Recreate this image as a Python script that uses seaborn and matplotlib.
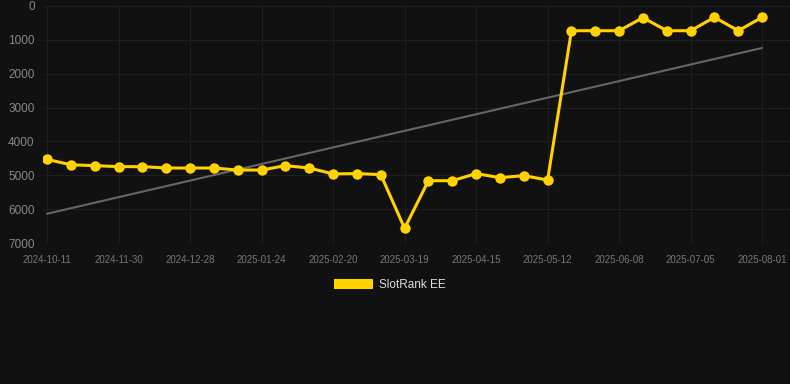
import numpy as np
import pandas as pd
import matplotlib
matplotlib.use("Agg")
import matplotlib.pyplot as plt
import seaborn as sns
from matplotlib.patches import Patch

tick_labels = ["2024-10-11", "2024-11-30", "2024-12-28", "2025-01-24", "2025-02-20",
               "2025-03-19", "2025-04-15", "2025-05-12", "2025-06-08", "2025-07-05",
               "2025-08-01"]
ranks = [4530, 4690, 4715, 4745, 4745, 4785, 4785, 4785, 4845, 4845, 4715,
         4785, 4960, 4950, 4980, 6565, 5160, 5160, 4950, 5070, 5010, 5140,
         730, 730, 730, 345, 730, 730, 335, 730, 335]
series_name = "SlotRank EE"

sns.set_theme(style="dark")
plt.rcParams['font.family'] = ['Liberation Sans', 'DejaVu Sans']
bg = "#111111"
fig = plt.figure(figsize=(7.9, 3.84), dpi=100, facecolor=bg)
ax = fig.add_axes([43 / 790, 1 - 243 / 384, 1 - 43 / 790, (243 - 6) / 384])
ax.set_facecolor(bg)

idx = np.arange(len(ranks))
df = pd.DataFrame({"i": idx, "rank": ranks})

# trend line (linear fit)
coef = np.polyfit(idx, ranks, 1)
trend = np.polyval(coef, idx)
ax.plot(idx, trend, color="#666666", lw=1.5, zorder=2)

sns.lineplot(data=df, x="i", y="rank", ax=ax, color="#FFD200", lw=2.2,
             marker="o", markersize=7.5, markeredgewidth=0, zorder=3)

ax.set_ylim(7000, 0)
ax.set_xlim(-0.17, len(ranks) - 1 + 1.17)
ax.set_yticks(range(0, 7001, 1000))
ax.set_xticks(idx[::3])
ax.set_xticklabels(tick_labels)
ax.tick_params(axis="y", colors="#888888", labelsize=8.5, length=0, pad=6)
ax.tick_params(axis="x", colors="#777777", labelsize=7, length=0, pad=8.5)
for lab in ax.get_yticklabels():
    lab.set_color("#888888")
for lab in ax.get_xticklabels():
    lab.set_color("#777777")
ax.grid(True, color="#1f1f1f", lw=0.8)
ax.set_xlabel("")
ax.set_ylabel("")
for s in ax.spines.values():
    s.set_visible(False)

handle = Patch(facecolor="#FFD200", edgecolor="none", label=series_name)
fig.legend(handles=[handle], loc="center", bbox_to_anchor=(390 / 790, 1 - 285 / 384),
           frameon=False, labelcolor="#dddddd", fontsize=8.5,
           handlelength=3.3, handleheight=0.95, handletextpad=0.5)

fig.savefig("out.png", dpi=100, facecolor=bg)
